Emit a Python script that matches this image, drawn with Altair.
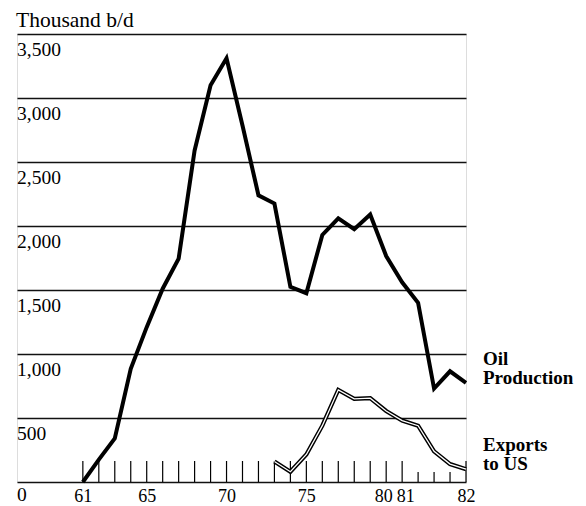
import altair as alt
import pandas as pd

# ---- data ----
periods = [str(y) for y in range(1961, 1981)] + ["1981 Q1", "1981 Q2", "1981 Q3", "1981 Q4", "1982 Q1"]
oil_production = [0, 175, 340, 885, 1210, 1510, 1745, 2590, 3100, 3310, 2785, 2240, 2175,
                  1525, 1475, 1930, 2060, 1975, 2090, 1765, 1560, 1400, 730, 865, 775]
exports_to_us = [None] * 12 + [160, 80, 215, 440, 720, 650, 655, 555, 480, 440, 240, 140, 100]

x_tick_periods = ["1961", "1965", "1970", "1975", "1980", "1981 Q1", "1982 Q1"]
x_tick_labels = ["61", "65", "70", "75", "80", "81", "82"]

y_ticks = [0, 500, 1000, 1500, 2000, 2500, 3000, 3500]
y_tick_labels = ["0", "500", "1,000", "1,500", "2,000", "2,500", "3,000", "3,500"]

series_names = ["Oil\nProduction", "Exports\nto US"]
unit_title = "Thousand b/d"

# ---- tables built from the arrays ----
df = pd.DataFrame({
    "period": periods,
    "t": list(range(len(periods))),
    "oil": oil_production,
    "exports": exports_to_us,
})
df["quarter"] = df["period"].str.contains("Q") & ~df["period"].str.endswith("Q1")

tick_pos = [periods.index(p) for p in x_tick_periods]
label_expr = ""
for p, l in zip(tick_pos, x_tick_labels):
    label_expr += f"datum.value == {p} ? '{l}' : "
label_expr += "''"

p80 = periods.index("1980")
p81 = periods.index("1981 Q1")

ylab_df = pd.DataFrame({"v": y_ticks, "label": y_tick_labels})
series_df = pd.DataFrame({
    "t": [len(periods) - 1, len(periods) - 1],
    "v": [oil_production[-1], exports_to_us[-1]],
    "name": series_names,
})
title_df = pd.DataFrame({"label": [unit_title]})

W, H = 449, 448
SERIF = "Liberation Serif"

xscale = alt.Scale(domain=[-4.125, len(periods) - 1], nice=False, zero=False)
yscale = alt.Scale(domain=[0, 3500], nice=False)

x_enc = alt.X("t:Q", scale=xscale, axis=alt.Axis(
    values=tick_pos, labelExpr=label_expr, grid=False, ticks=False, tickSize=0,
    domain=False, labelFont=SERIF, labelFontSize=18, labelColor="black",
    labelPadding=19, labelBaseline="alphabetic", labelOverlap=False,
    labelFlush=False, title=None,
    labelOffset={"condition": [{"test": f"datum.value == {p80}", "value": -3},
                               {"test": f"datum.value == {p81}", "value": 3}],
                 "value": 0}))

base = alt.Chart(df)

oil_line = base.mark_line(color="black", strokeWidth=4, strokeJoin="miter").encode(
    x=x_enc,
    y=alt.Y("oil:Q", scale=yscale, axis=alt.Axis(
        values=y_ticks, grid=True, gridColor="#111111", gridWidth=1.3,
        labels=False, ticks=False, domain=False, title=None)),
)

exp_outer = base.transform_filter("isValid(datum.exports)").mark_line(
    color="black", strokeWidth=4.2, strokeJoin="miter").encode(
    x=alt.X("t:Q", scale=xscale), y=alt.Y("exports:Q", scale=yscale))
exp_inner = base.transform_filter("isValid(datum.exports)").mark_line(
    color="white", strokeWidth=1.3, strokeJoin="miter").encode(
    x=alt.X("t:Q", scale=xscale), y=alt.Y("exports:Q", scale=yscale))

major_ticks = base.transform_filter("!datum.quarter").mark_rule(
    color="black", strokeWidth=1.2).encode(
    x=alt.X("t:Q", scale=xscale), y=alt.value(H), y2=alt.value(H - 21))
minor_ticks = base.transform_filter("datum.quarter").mark_rule(
    color="black", strokeWidth=1.2).encode(
    x=alt.X("t:Q", scale=xscale), y=alt.value(H), y2=alt.value(H - 10))

y_labels = alt.Chart(ylab_df).transform_filter("datum.v > 0").mark_text(
    align="left", baseline="alphabetic", dy=22, font=SERIF, fontSize=19.5,
    color="black").encode(
    x=alt.value(0), y=alt.Y("v:Q", scale=yscale), text="label:N")
zero_label = alt.Chart(ylab_df).transform_filter("datum.v == 0").mark_text(
    align="left", baseline="alphabetic", dy=19, font=SERIF, fontSize=19.5,
    color="black").encode(
    x=alt.value(0), y=alt.Y("v:Q", scale=yscale), text="label:N")

series_labels = alt.Chart(series_df).mark_text(
    align="left", baseline="alphabetic", dx=17, dy=-18, lineBreak="\n",
    lineHeight=19, font=SERIF, fontSize=19, fontWeight="bold",
    color="black").encode(
    x=alt.X("t:Q", scale=xscale), y=alt.Y("v:Q", scale=yscale), text="name:N")

title_text = alt.Chart(title_df).mark_text(
    align="left", baseline="alphabetic", font=SERIF, fontSize=21.5,
    color="black").encode(
    x=alt.value(-1), y=alt.value(-7), text="label:N")

chart = alt.layer(
    oil_line, major_ticks, minor_ticks, exp_outer, exp_inner, y_labels,
    zero_label, series_labels, title_text
).properties(
    width=W, height=H,
    autosize=alt.AutoSizeParams(type="none"),
    padding={"left": 9, "top": 26, "right": 112, "bottom": 24},
).configure_view(stroke=None).configure(background="white")

chart.save("out.html", embed_options={"renderer": "svg", "actions": False})
